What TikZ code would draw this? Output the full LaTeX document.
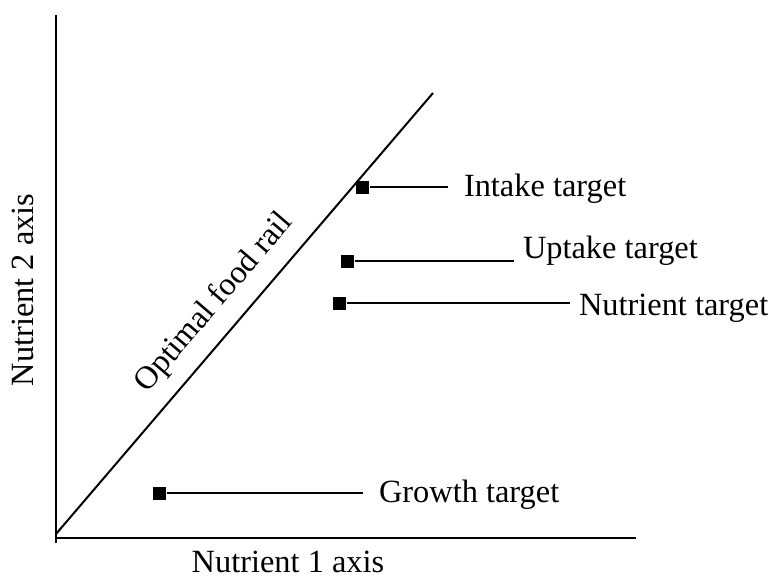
\documentclass[tikz,border=0pt]{standalone}
\usepackage{fontspec}
\setmainfont{Liberation Serif}
\usepackage{tikz}
\usetikzlibrary{arrows}
\tikzstyle{mark box}=[draw=none, fill=black, rectangle, minimum size=9.75pt, inner sep=0pt]
\tikzstyle{lbl}=[anchor=base west, inner xsep=6pt, inner ysep=0pt]
\tikzstyle{axis}=[line width=1.6pt]

\begin{document}
\begin{tikzpicture}[x=0.75pt,y=-0.75pt,line width=1.5pt,font=\fontsize{24.3}{28}\selectfont]
    \useasboundingbox (0,0) rectangle (769,579);
    \coordinate (o) at (56,538);
    \coordinate (ytop) at (56,15);
    \coordinate (ybot) at (56,543);
    \coordinate (xend) at (636,538);
    \coordinate (r0) at (56,534);
    \coordinate (r1) at (433,93);
    \draw [axis] (ytop) -- (ybot);
    \draw [axis] (o) -- (xend);
    \draw (r0) -- node [sloped, above=7pt, pos=.48] (rail) {Optimal food rail} (r1);
    \node (xl) at (288,572) [anchor=base, inner sep=0pt] {Nutrient 1 axis};
    \node (yl) at (33,290) [anchor=base, rotate=90, inner sep=1pt] {Nutrient 2 axis};
    \node [mark box] (m1) at (362,187) {};
    \node [mark box] (m2) at (347,261) {};
    \node [mark box] (m3) at (339,303) {};
    \node [mark box] (m4) at (159,493) {};
    \node [lbl] (t1) at (455,196) {Intake target};
    \node [lbl] (t2) at (514,258) {Uptake target};
    \node [lbl] (t3) at (570,315) {Nutrient target};
    \node [lbl] (t4) at (370,502) {Growth target};
    \draw [shorten >=5pt] (m1) -- (m1 -| t1.west);
    \draw (m2) -- (m2 -| t2.west);
    \draw (m3) -- (m3 -| t3.west);
    \draw [shorten >=5pt] (m4) -- (m4 -| t4.west);
\end{tikzpicture}
\end{document}
